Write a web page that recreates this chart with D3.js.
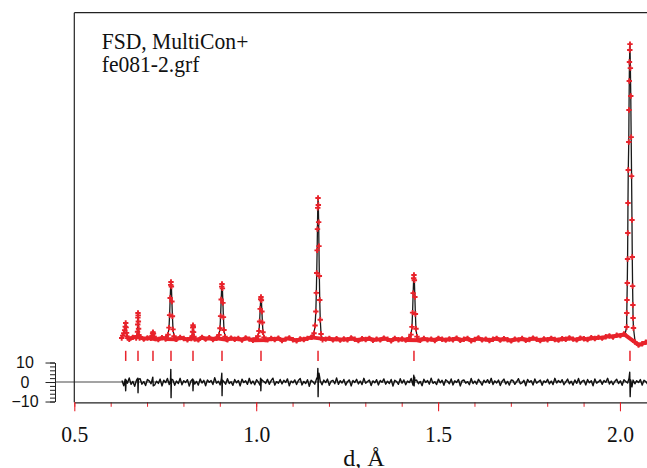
<!DOCTYPE html>
<html>
<head>
<meta charset="utf-8">
<script src="https://cdn.jsdelivr.net/npm/d3@7"></script>
<style>
    html, body { margin: 0; padding: 0; background: #fff; overflow: hidden; }
    svg { display: block; }
</style>
</head>
<body>
<div id="wrapper"></div>
<script>
// ---- data (d in Å, intensity in the units of the difference axis)
const titleLines = ["FSD, MultiCon+", "fe081-2.grf"];
const xLabel = "d, Å";
const xTicks = [0.5, 1.0, 1.5, 2.0];
const diffTicks = [-10, 0, 10];

// Bragg reflection positions (red tick row)
const reflections = [0.6413, 0.6751, 0.7163, 0.7658, 0.8263, 0.9060, 1.0132, 1.1700, 1.4337, 2.0275];

// observed background band, one value every obsStep starting at obsStart
const obsStart = 0.631;
const obsStep = 0.01;
const obsBackground = [
    22.4, 22.8, 21.9, 22.9, 22.2, 23.1, 22.0, 22.6, 23.0, 22.3,
    21.8, 22.7, 22.1, 23.2, 22.5, 21.9, 22.8, 22.3, 21.7, 22.6,
    22.2, 21.6, 22.9, 22.0, 22.7, 21.8, 22.4, 23.0, 22.1, 21.7,
    22.5, 21.9, 22.3, 21.5, 22.6, 22.0, 21.4, 22.4, 22.8, 21.9,
    21.6, 22.3, 21.8, 22.5, 21.3, 22.0, 22.6, 21.7, 21.2, 22.1,
    21.8, 22.4, 22.9, 23.3, 24.0, 23.2, 22.0, 22.4, 21.6, 22.2,
    21.5, 22.1, 21.7, 22.6, 21.9, 21.3, 22.2, 21.8, 22.4, 21.4,
    22.0, 21.6, 22.5, 21.9, 21.2, 22.3, 21.7, 22.1, 21.5, 22.6,
    22.2, 21.8, 21.4, 22.3, 21.6, 22.0, 21.3, 22.4, 21.9, 21.5,
    22.1, 21.7, 22.5, 21.4, 21.9, 22.3, 21.2, 21.8, 22.6, 21.6,
    22.0, 21.3, 21.9, 22.4, 21.5, 22.2, 21.7, 21.1, 22.0, 21.6,
    22.3, 21.4, 21.8, 22.5, 21.9, 21.3, 22.1, 21.7, 22.4, 21.8,
    21.5, 22.2, 21.9, 22.6, 22.0, 21.6, 22.5, 22.2, 21.8, 22.7,
    22.3, 22.9, 22.5, 23.2, 23.6, 23.1, 24.0, 23.8, 24.6, 25.0,
    21.0, 20.5, 19.0, 19.6, 20.4, 21.1
];

// observed points across each Bragg peak [d, intensity]
const peakProfiles = [
    [[0.6303, 22.6], [0.6330, 23.8], [0.6360, 25.0], [0.6385, 26.6], [0.6400, 28.4], [0.6413, 30.3],
     [0.6424, 28.0], [0.6436, 25.2], [0.6450, 23.4], [0.6470, 22.5]],
    [[0.6700, 22.6], [0.6725, 23.6], [0.6738, 25.8], [0.6744, 29.5], [0.6748, 33.0], [0.6751, 35.4],
     [0.6756, 34.2], [0.6761, 31.0], [0.6767, 27.3], [0.6775, 24.2], [0.6795, 22.5]],
    [[0.7105, 22.4], [0.7135, 23.6], [0.7152, 24.9], [0.7163, 25.6], [0.7176, 24.8], [0.7195, 23.2],
     [0.7225, 22.3]],
    [[0.7520, 22.9], [0.7576, 24.3], [0.7603, 27.9], [0.7620, 34.3], [0.7636, 43.1], [0.7650, 49.8],
     [0.7658, 51.3], [0.7669, 49.0], [0.7683, 41.3], [0.7697, 33.7], [0.7713, 27.0], [0.7741, 23.5],
     [0.7782, 22.0]],
    [[0.8215, 22.3], [0.8240, 23.5], [0.8252, 25.8], [0.8258, 27.9], [0.8263, 29.2], [0.8270, 28.2],
     [0.8278, 25.6], [0.8290, 23.2], [0.8310, 22.1]],
    [[0.8922, 22.8], [0.8978, 24.2], [0.9005, 27.6], [0.9022, 33.8], [0.9038, 42.3], [0.9052, 48.9],
     [0.9060, 50.3], [0.9071, 48.0], [0.9085, 40.6], [0.9099, 33.3], [0.9115, 26.7], [0.9143, 23.3],
     [0.9184, 21.9]],
    [[0.9994, 22.5], [1.0050, 23.5], [1.0077, 26.2], [1.0094, 31.0], [1.0110, 37.5], [1.0124, 42.5],
     [1.0132, 43.6], [1.0143, 41.9], [1.0157, 36.2], [1.0171, 30.5], [1.0187, 25.5], [1.0215, 22.9],
     [1.0256, 21.8]],
    [[1.1535, 23.0], [1.1590, 25.0], [1.1618, 29.0], [1.1640, 36.2], [1.1653, 45.7], [1.1664, 55.9],
     [1.1675, 67.5], [1.1684, 78.4], [1.1692, 89.3], [1.1700, 94.4], [1.1708, 90.8], [1.1717, 82.0],
     [1.1725, 69.7], [1.1736, 54.4], [1.1747, 42.1], [1.1761, 31.9], [1.1783, 24.6], [1.1824, 21.7]],
    [[1.4200, 22.6], [1.4255, 24.3], [1.4282, 28.3], [1.4299, 35.6], [1.4315, 45.6], [1.4329, 53.2],
     [1.4337, 54.9], [1.4348, 52.2], [1.4362, 43.6], [1.4376, 34.9], [1.4392, 27.3], [1.4420, 23.3],
     [1.4461, 21.6]],
    [[2.0184, 28.2], [2.0187, 35.4], [2.0193, 42.1], [2.0201, 50.8], [2.0209, 63.1], [2.0215, 76.4],
     [2.0220, 91.8], [2.0228, 108.7], [2.0242, 123.1], [2.0248, 139.5], [2.0256, 154.4], [2.0261, 164.1],
     [2.0270, 170.3], [2.0275, 173.3], [2.0286, 161.0], [2.0297, 146.7], [2.0308, 125.6], [2.0319, 105.6],
     [2.0330, 83.1], [2.0338, 64.1], [2.0347, 49.2], [2.0355, 39.5], [2.0360, 32.8], [2.0371, 27.7]]
];

// calculated background between the peaks [d, intensity]
const calcBackground = [
    [0.66, 22.4], [0.695, 22.3], [0.74, 22.2], [0.80, 22.1], [0.86, 22.0], [0.96, 21.9],
    [1.06, 21.8], [1.12, 22.0], [1.15, 22.8], [1.20, 21.9], [1.30, 21.8], [1.40, 21.7],
    [1.50, 21.7], [1.70, 21.7], [1.90, 22.0], [1.95, 22.7], [1.98, 23.5], [2.005, 24.5],
    [2.015, 25.5], [2.042, 20.0], [2.055, 19.4], [2.068, 20.2], [2.08, 21.0]
];

// difference curve (obs - calc), one value every diffStep starting at diffStart
const diffStart = 0.631;
const diffStep = 0.005;
const diffValues = [
    0.8, -1.9, 1.4, -0.6, 2.1, -1.2, 0.3, -2.2, 1.0, -0.4,
    1.7, -1.1, 0.2, -1.8, 1.3, 0.6, -0.9, 2.0, -1.5, 0.4,
    -0.7, 1.5, -2.0, 0.9, -0.3, 1.8, -1.3, 0.1, 1.1, -1.7,
    0.5, -0.8, 1.9, -1.4, 0.7, -0.2, 1.2, -2.1, 0.6, 1.4,
    -1.0, 0.3, -1.6, 1.6, -0.5, 0.9, -1.9, 1.1, -0.1, 0.8,
    -1.3, 2.2, -0.6, 0.4, -1.5, 1.0, 0.2, -1.1, 1.7, -0.8,
    0.1, -1.7, 1.3, -0.4, 0.8, -2.0, 1.5, -0.3, 0.6, -1.2,
    1.9, -0.9, 0.5, -1.4, 1.2, -0.1, -1.8, 1.0, 0.3, -0.7,
    1.4, -1.2, 0.7, 2.0, -1.6, 0.2, -0.6, 1.3, -1.0, 0.9,
    -0.2, 1.6, -1.9, 0.5, -0.4, 1.1, -1.3, 0.8, 1.8, -1.5,
    0.3, -0.8, 1.2, -2.2, 0.9, 0.1, -1.1, 1.7, -0.5, 0.6,
    -1.4, 1.0, -0.3, 1.5, -1.7, 0.4, 0.9, -0.9, 2.1, -1.2,
    0.7, -0.5, 1.3, -1.6, 0.2, 1.1, -2.0, 0.8, -0.2, 1.4,
    -1.0, 0.5, -1.3, 1.9, -0.7, 0.3, 1.0, -1.8, 0.6, -0.4,
    1.2, -1.5, 0.8, -0.1, 1.6, -1.1, 0.4, -0.8, 1.3, -2.1,
    0.9, 0.2, -1.2, 1.7, -0.6, 1.1, -1.4, 0.5, -0.3, 1.8,
    -1.6, 0.7, 1.0, -0.9, 0.3, -1.9, 1.4, -0.2, 0.8, -1.1,
    2.0, -0.7, 0.1, -1.3, 1.5, -0.4, 0.9, -1.7, 1.2, 0.4,
    -0.9, 1.6, -1.5, 0.6, -0.2, 1.3, -2.0, 0.7, 1.1, -0.6,
    0.2, -1.4, 1.8, -0.8, 0.5, -1.1, 1.4, 0.1, -1.6, 0.9,
    -0.3, 1.2, -0.7, 1.9, -1.3, 0.6, -0.5, 1.0, -1.8, 0.4,
    1.5, -1.0, 0.3, -1.6, 1.1, 0.8, -1.2, 0.2, 1.7, -0.9,
    -0.4, 0.9, -1.9, 1.3, -0.1, 0.7, -1.5, 1.6, -0.6, 0.3,
    1.0, -1.7, 0.6, -0.2, 1.4, -1.0, 0.5, -1.3, 1.9, -0.5,
    0.8, -0.3, 1.2, -1.4, 0.1, 1.5, -0.9, 0.4, -1.6, 1.1,
    -0.7, 1.8, -1.1, 0.5, 0.9, -1.5, 1.3, -0.4, 0.7, -1.9,
    1.6, -0.6, 0.2, 1.1, -1.2, 0.8, -0.1, 1.9, -1.0, 0.5,
    -1.3, 0.4, 1.4, -0.8, 0.6, -1.7, 1.2, 0.3, -0.5, 1.0,
    -1.4, 2.1, -0.9, 0.7, -0.3, 1.3, -1.6, 0.9, 0.2, -1.1,
    1.5, -0.8, 0.4, -1.2, 1.0, -0.5, 1.7, -1.3, 0.6, -0.2
];

// misfit spikes of the difference curve at the Bragg peaks [d, value]
const diffSpikes = [
    [[0.6400, 1.5], [0.6412, -4.5], [0.6425, 1.0]],
    [[0.6745, 2.0], [0.6752, -5.5], [0.6762, 1.5]],
    [[0.7158, 2.5], [0.7170, -2.0]],
    [[0.7645, 1.0], [0.7653, 6.5], [0.7660, -8.0], [0.7670, 1.5]],
    [[0.8255, 1.5], [0.8263, -4.5], [0.8275, 1.0]],
    [[0.9045, 2.0], [0.9055, 4.5], [0.9062, -7.0], [0.9072, 1.0]],
    [[1.0120, 2.0], [1.0128, -4.5], [1.0140, 1.5]],
    [[1.1685, 2.5], [1.1695, 7.0], [1.1702, -7.5], [1.1712, 3.0], [1.1725, 4.5], [1.1745, 2.5]],
    [[1.4320, 1.0], [1.4332, 3.5], [1.4342, -2.0], [1.4355, 2.5]],
    [[2.0250, 2.0], [2.0268, 5.0], [2.0280, -7.5], [2.0295, 1.0], [2.0330, -2.5], [2.0360, 1.0]]
];

// ---- drawing
const width = 647;
const height = 468;
const red = "#e8232b";
const serif = "Liberation Serif, Times New Roman, serif";
const sans = "Liberation Sans, Arial, sans-serif";

// grid points that fall inside a peak group are replaced by that group
function mergeSeries(grid, groups) {
    const spans = groups.map(g => [g[0][0], g[g.length - 1][0]]);
    const kept = grid.filter(p => !spans.some(([a, b]) => p[0] >= a && p[0] <= b));
    return kept.concat(...groups).sort((a, b) => a[0] - b[0]);
}

function condense(selection, k) {
    selection.each(function () {
        const len = this.getComputedTextLength();
        d3.select(this)
            .attr("textLength", len * k)
            .attr("lengthAdjust", "spacingAndGlyphs");
    });
}

const obsGrid = obsBackground.map((v, i) => [obsStart + i * obsStep, v]);
const obsBand = obsGrid.filter(p => !peakProfiles.some(g => p[0] >= g[0][0] && p[0] <= g[g.length - 1][0]));
const obsAll = mergeSeries(obsGrid, peakProfiles);
const calcAll = mergeSeries(calcBackground, peakProfiles);
const diffAll = mergeSeries(diffValues.map((v, i) => [diffStart + i * diffStep, v]), diffSpikes);

const svg = d3.select("#wrapper")
    .append("svg")
    .attr("width", width)
    .attr("height", height);

const xScale = d3.scaleLinear()
    .domain([0.5, 2.0743])
    .range([74.3, 647]);

const yScale = d3.scaleLinear()
    .domain([-10.4, 189.4])
    .range([402.3, 12.7]);

const line = d3.line()
    .x(d => xScale(d[0]))
    .y(d => yScale(d[1]));

// zero line of the difference curve
svg.append("line")
    .attr("x1", 55)
    .attr("x2", width)
    .attr("y1", yScale(0))
    .attr("y2", yScale(0))
    .attr("stroke", "#858585")
    .attr("stroke-width", 1.6);

svg.append("path")
    .attr("d", line(diffAll))
    .attr("fill", "none")
    .attr("stroke", "#111")
    .attr("stroke-width", 1.4)
    .attr("stroke-linejoin", "round");

// reflection ticks
svg.append("g")
    .selectAll("line")
    .data(reflections)
    .join("line")
    .attr("x1", d => xScale(d))
    .attr("x2", d => xScale(d))
    .attr("y1", yScale(16))
    .attr("y2", yScale(10.8))
    .attr("stroke", red)
    .attr("stroke-width", 1.5);

// calculated profile
svg.append("path")
    .attr("d", line(calcAll))
    .attr("fill", "none")
    .attr("stroke", "#1a1a1a")
    .attr("stroke-width", 1.3)
    .attr("stroke-linejoin", "round");

// observed data: band along the background plus cross markers
svg.append("path")
    .attr("d", line(obsBand))
    .attr("fill", "none")
    .attr("stroke", red)
    .attr("stroke-width", 4)
    .attr("stroke-linejoin", "round");

svg.append("g")
    .selectAll("path")
    .data(obsAll)
    .join("path")
    .attr("transform", d => `translate(${xScale(d[0])},${yScale(d[1])})`)
    .attr("d", "M-2.7,0H2.7M0,-2.7V2.7")
    .attr("stroke", red)
    .attr("stroke-width", 1.9);

// frame
svg.append("line")
    .attr("x1", xScale(0.5)).attr("x2", xScale(0.5))
    .attr("y1", yScale(189.4)).attr("y2", yScale(-10.4))
    .attr("stroke", "#222").attr("stroke-width", 1.2);
svg.append("line")
    .attr("x1", xScale(0.5)).attr("x2", width)
    .attr("y1", yScale(189.4)).attr("y2", yScale(189.4))
    .attr("stroke", "#222").attr("stroke-width", 1.2);

// x axis: minor then major ticks
const xAxisY = yScale(-10.4);
const minorAxis = svg.append("g")
    .attr("transform", `translate(0,${xAxisY})`)
    .call(d3.axisBottom(xScale)
        .tickValues(d3.range(5, 21).map(i => i / 10))
        .tickSize(4.5)
        .tickSizeOuter(0)
        .tickFormat(""));
minorAxis.select(".domain").remove();
minorAxis.selectAll(".tick line").attr("stroke", red);

const majorAxis = svg.append("g")
    .attr("transform", `translate(0,${xAxisY})`)
    .call(d3.axisBottom(xScale)
        .tickValues(xTicks)
        .tickSize(9)
        .tickSizeOuter(0)
        .tickFormat(d3.format(".1f")));
majorAxis.select(".domain").attr("stroke", "#222").attr("stroke-width", 1.2);
majorAxis.selectAll(".tick line").attr("stroke", red).attr("stroke-width", 1.1);
majorAxis.selectAll(".tick text")
    .attr("y", 39.4)
    .attr("dy", 0)
    .attr("fill", "#111")
    .attr("font-family", serif)
    .attr("font-size", 24)
    .call(condense, 0.9);

svg.append("text")
    .attr("x", 364)
    .attr("y", 466)
    .attr("text-anchor", "middle")
    .attr("fill", "#111")
    .attr("font-family", serif)
    .attr("font-size", 24)
    .text(xLabel);

// small axis of the difference curve
const diffScale = d3.scaleLinear()
    .domain([-10, 10])
    .range([yScale(-10), yScale(10)]);

const diffMinor = svg.append("g")
    .attr("transform", "translate(55,0)")
    .call(d3.axisLeft(diffScale)
        .tickValues(d3.range(-10, 11, 2))
        .tickSize(5)
        .tickSizeOuter(0)
        .tickFormat(""));
diffMinor.selectAll("path, line").attr("stroke", "#222");

const diffMajor = svg.append("g")
    .attr("transform", "translate(55,0)")
    .call(d3.axisLeft(diffScale)
        .tickValues(diffTicks)
        .tickSize(9.5)
        .tickSizeOuter(0));
diffMajor.selectAll("path, line").attr("stroke", "#222");
diffMajor.selectAll(".tick text")
    .attr("x", -30)
    .attr("text-anchor", "middle")
    .attr("fill", "#111")
    .attr("font-family", sans)
    .attr("font-size", 16);

// header text
svg.append("g")
    .attr("font-family", serif)
    .attr("font-size", 24)
    .selectAll("text")
    .data(titleLines)
    .join("text")
    .attr("x", 101.7)
    .attr("y", (d, i) => 49.3 + i * 22.4)
    .attr("fill", "#111")
    .text(d => d)
    .call(condense, 0.9);
</script>
</body>
</html>
